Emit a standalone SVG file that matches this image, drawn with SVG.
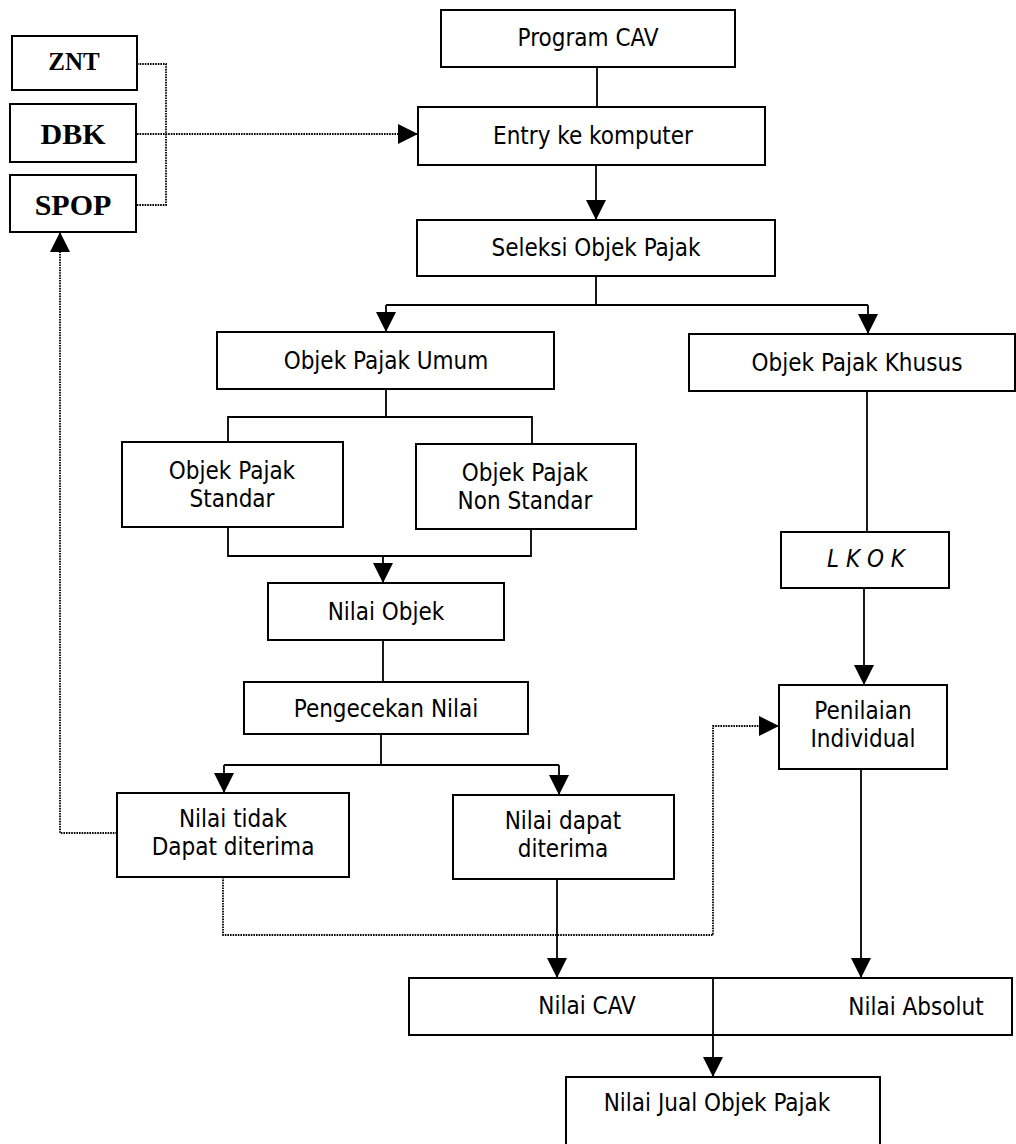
<svg xmlns="http://www.w3.org/2000/svg" width="1016" height="1144" viewBox="0 0 1016 1144">
<defs>
<style>
.box{fill:#fff;stroke:#000;stroke-width:2}
.open{fill:none}
.t{font-family:"DejaVu Sans Condensed","DejaVu Sans",sans-serif;font-stretch:condensed;font-size:24px;fill:#000;text-anchor:middle}
.s{font-family:"Liberation Serif","Times New Roman",serif;font-weight:bold;fill:#000;text-anchor:middle}
.ln{fill:none;stroke:#000;stroke-width:1.8}
.dt{fill:none;stroke:#000;stroke-width:1.8;stroke-dasharray:1.6 1}
</style>
<marker id="ah" markerUnits="userSpaceOnUse" markerWidth="20" markerHeight="20" refX="20" refY="10" orient="auto">
<path d="M0,0 L20,10 L0,20 z" fill="#000"/>
</marker>
</defs>
<rect width="1016" height="1144" fill="#fff"/>
<g id="connectors">
<path class="ln" d="M597,67 V107"/>
<path class="ln" d="M596,165 V220" marker-end="url(#ah)"/>
<path class="ln" d="M596,276 V305 M386,305 H868"/>
<path class="ln" d="M386,305 V332" marker-end="url(#ah)"/>
<path class="ln" d="M868,305 V334" marker-end="url(#ah)"/>
<path class="ln" d="M386,389 V417 M228,442 V417 H532 V444"/>
<path class="ln" d="M228,527 V556 H531 V529"/>
<path class="ln" d="M383,556 V583" marker-end="url(#ah)"/>
<path class="ln" d="M383,640 V682"/>
<path class="ln" d="M381,734 V765 M224,765 H559"/>
<path class="ln" d="M224,765 V793" marker-end="url(#ah)"/>
<path class="ln" d="M559,765 V795" marker-end="url(#ah)"/>
<path class="ln" d="M867,391 V532"/>
<path class="ln" d="M864,588 V685" marker-end="url(#ah)"/>
<path class="ln" d="M861,769 V978" marker-end="url(#ah)"/>
<path class="ln" d="M557,879 V978" marker-end="url(#ah)"/>
<path class="ln" d="M713,978 V1077" marker-end="url(#ah)"/>
<path class="dt" d="M137,64 H166 V205 H137"/>
<path class="dt" d="M137,134 H418" marker-end="url(#ah)"/>
<path class="dt" d="M117,833 H60 V232" marker-end="url(#ah)"/>
<path class="dt" d="M223,877 V935 H713 V726 H779" marker-end="url(#ah)"/>
</g>
<g id="znt"><rect class="box" x="12" y="36" width="125" height="54"/><text class="s" x="74" y="70" font-size="25">ZNT</text></g>
<g id="dbk"><rect class="box" x="10" y="104" width="126" height="58"/><text class="s" x="73" y="144" font-size="30">DBK</text></g>
<g id="spop"><rect class="box" x="10" y="175" width="126" height="57"/><text class="s" x="73" y="215" font-size="30">SPOP</text></g>
<g id="program-cav"><rect class="box" x="441" y="10" width="294" height="57"/><text class="t" x="588" y="46">Program CAV</text></g>
<g id="entry"><rect class="box" x="418" y="107" width="347" height="58"/><text class="t" x="593" y="144">Entry ke komputer</text></g>
<g id="seleksi"><rect class="box" x="417" y="220" width="358" height="56"/><text class="t" x="596" y="256">Seleksi Objek Pajak</text></g>
<g id="umum"><rect class="box" x="217" y="332" width="337" height="57"/><text class="t" x="386" y="369">Objek Pajak Umum</text></g>
<g id="khusus"><rect class="box" x="689" y="334" width="326" height="57"/><text class="t" x="857" y="371">Objek Pajak Khusus</text></g>
<g id="standar"><rect class="box" x="122" y="442" width="221" height="85"/><text class="t" x="232" y="479">Objek Pajak</text><text class="t" x="232" y="507">Standar</text></g>
<g id="non-standar"><rect class="box" x="416" y="444" width="220" height="85"/><text class="t" x="525" y="481">Objek Pajak</text><text class="t" x="525" y="509">Non Standar</text></g>
<g id="nilai-objek"><rect class="box" x="268" y="583" width="236" height="57"/><text class="t" x="386" y="620">Nilai Objek</text></g>
<g id="pengecekan"><rect class="box" x="244" y="682" width="284" height="52"/><text class="t" x="386" y="717">Pengecekan Nilai</text></g>
<g id="lkok"><rect class="box" x="781" y="532" width="168" height="56"/><text class="t" x="866" y="567" font-style="italic">L K O K</text></g>
<g id="penilaian"><rect class="box" x="779" y="685" width="168" height="84"/><text class="t" x="863" y="719">Penilaian</text><text class="t" x="863" y="747">Individual</text></g>
<g id="nilai-tidak"><rect class="box" x="117" y="793" width="232" height="84"/><text class="t" x="233" y="827">Nilai tidak</text><text class="t" x="233" y="855">Dapat diterima</text></g>
<g id="nilai-dapat"><rect class="box" x="453" y="795" width="221" height="84"/><text class="t" x="563" y="829">Nilai dapat</text><text class="t" x="563" y="857">diterima</text></g>
<g id="nilai-cav"><rect class="box open" x="409" y="978" width="603" height="57"/><text class="t" x="587" y="1014">Nilai CAV</text><text class="t" x="916" y="1015">Nilai Absolut</text></g>
<g id="nilai-jual"><rect class="box" x="566" y="1077" width="314" height="90"/><text class="t" x="717" y="1111">Nilai Jual Objek Pajak</text></g>
</svg>
